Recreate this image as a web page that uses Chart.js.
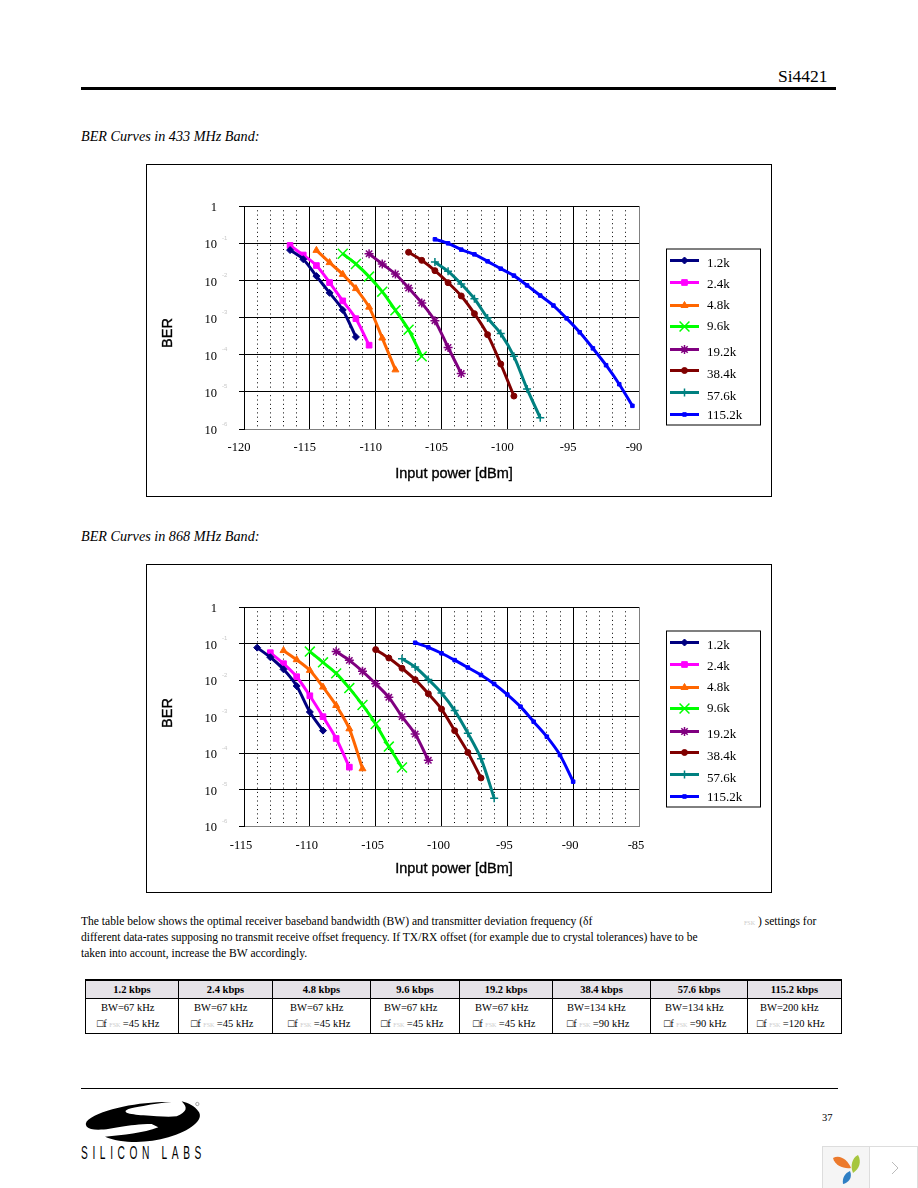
<!DOCTYPE html>
<html>
<head>
<meta charset="utf-8">
<script src="https://cdn.jsdelivr.net/npm/chart.js@4/dist/chart.umd.min.js"></script>
<style>
html, body { margin: 0; padding: 0; background: #fff; }
#page { position: relative; width: 918px; height: 1188px; overflow: hidden; font-family: "Liberation Serif", serif; color: #000; }
.abs { position: absolute; white-space: nowrap; }
.rule { position: absolute; background: #000; }
.box { position: absolute; left: 146px; width: 626px; border: 1px solid #000; box-sizing: border-box; }
.box canvas { position: absolute; left: -1px; top: -1px; }
.caption { font-style: italic; font-size: 14.2px; left: 81px; }
.para { left: 81px; font-size: 11.55px; }
.fsk { color: #ccc; font-size: 6px; display: inline-block; width: 16px; text-align: center; }
#specs { position: absolute; left: 85px; top: 979px; width: 756px; height: 55px; border-collapse: collapse; table-layout: fixed; font-size: 10.5px; }
#specs th { height: 17px; background: #e6e3e8; border: 1px solid #000; border-top: 2px solid #000; padding: 0; font-size: 10.5px; text-align: center; }
#specs td { border: 1px solid #000; padding: 1px 0 0 0; line-height: 15.5px; text-align: left; }
#specs td div { white-space: nowrap; }
#brand { left: 81px; top: 1141.5px; font-family: "Liberation Sans", sans-serif; font-size: 18.5px; letter-spacing: 8.4px; transform: scaleX(0.55); transform-origin: left; }
#widget { position: absolute; left: 822px; top: 1146px; width: 96px; height: 42px; border: 1px solid #ddd; border-bottom: 0; box-sizing: border-box; background: #fff; }
</style>
</head>
<body>
<div id="page">
    <div class="abs" style="left:778px;top:66px;font-size:17.5px">Si4421</div>
    <div class="rule" style="left:81px;top:87px;width:755px;height:3px"></div>

    <div class="abs caption" style="top:128px">BER Curves in 433 MHz Band:</div>
    <div class="box" style="top:164px;height:333px"><canvas id="ber433" width="626" height="333"></canvas></div>

    <div class="abs caption" style="top:528px">BER Curves in 868 MHz Band:</div>
    <div class="box" style="top:564px;height:329px"><canvas id="ber868" width="626" height="329"></canvas></div>

    <div class="abs para" style="top:915px">The table below shows the optimal receiver baseband bandwidth (BW) and transmitter deviation frequency (δf</div>
    <div class="abs para" style="top:915px;left:744px"><span class="fsk" style="width:auto">FSK</span> ) settings for</div>
    <div class="abs para" style="top:931px">different data-rates supposing no transmit receive offset frequency. If TX/RX offset (for example due to crystal tolerances) have to be</div>
    <div class="abs para" style="top:947px">taken into account, increase the BW accordingly.</div>

    <table id="specs"></table>

    <div class="rule" style="left:81px;top:1088px;width:757px;height:1px"></div>
    <svg class="abs" style="left:80px;top:1098px" width="125" height="64" viewBox="0 0 375 192">
        <path d="M275 12 C190 10 70 30 25 65 C8 80 20 95 55 95 C100 95 140 78 215 78 L235 88 C190 105 130 112 75 116 C120 135 200 138 265 118 C330 100 375 65 355 40 C345 25 325 15 305 10 C325 30 320 42 290 55 C265 58 230 55 190 52 C170 50 150 48 140 44 C128 36 150 30 190 24 C220 18 250 14 275 12 Z" fill="#000"/>
        <circle cx="352" cy="18" r="5" fill="none" stroke="#555" stroke-width="1.5"/>
    </svg>
    <div class="abs" id="brand">SILICON LABS</div>
    <div class="abs" style="left:822px;top:1112px;font-size:10.5px">37</div>

    <div id="widget">
        <div style="position:absolute;left:0;top:0;width:46px;height:42px;background:#f5f5f5;border-right:1px solid #ddd"></div>
        <svg style="position:absolute;left:9px;top:7px" width="30" height="31" viewBox="0 0 30 31">
            <path d="M1 4 C8 0 16 6 19 14 C12 15 3 12 1 4 Z" fill="#ec7a2c"/>
            <path d="M26 1 C30 8 27 15 21 19 C18 12 20 4 26 1 Z" fill="#a6c63e"/>
            <path d="M18 17 C21 24 16 29 11 30 C10 24 13 19 18 17 Z" fill="#2f7fc4"/>
        </svg>
        <svg style="position:absolute;left:68px;top:14px" width="8" height="14" viewBox="0 0 8 14">
            <path d="M1 1 L7 7 L1 13" fill="none" stroke="#bbb" stroke-width="1"/>
        </svg>
    </div>
</div>

<script>
// data, values
const rateLabels = ["1.2k", "2.4k", "4.8k", "9.6k", "19.2k", "38.4k", "57.6k", "115.2k"];
const yTickValues = [1, 1e-1, 1e-2, 1e-3, 1e-4, 1e-5, 1e-6];
const yTickExponents = ["", "-1", "-2", "-3", "-4", "-5", "-6"];

// 433 MHz band, first x of each curve plus BER per 1 dB step
const start433 = [-116.5, -116.5, -114.5, -112.5, -110.5, -107.5, -105.5, -105.5];
const ber433_12 = [6.5e-2, 3.7e-2, 1.3e-2, 4.6e-3, 1.6e-3, 3.0e-4];
const ber433_24 = [8.7e-2, 4.8e-2, 2.5e-2, 8.7e-3, 2.8e-3, 9.3e-4, 1.8e-4];
const ber433_48 = [6.4e-2, 3.0e-2, 1.45e-2, 6.0e-3, 1.9e-3, 2.8e-4, 3.9e-5];
const ber433_96 = [5.2e-2, 2.75e-2, 1.26e-2, 4.95e-3, 1.56e-3, 4.7e-4, 9.0e-5];
const ber433_192 = [5.2e-2, 2.75e-2, 1.48e-2, 6.2e-3, 2.45e-3, 8.2e-4, 1.57e-4, 3.1e-5];
const ber433_384 = [5.7e-2, 3.45e-2, 1.82e-2, 8.65e-3, 3.8e-3, 1.27e-3, 3.45e-4, 5.6e-5, 7.7e-6];
const ber433_576 = [3.1e-2, 1.75e-2, 8.0e-3, 3.2e-3, 9.7e-4, 3.7e-4, 9.0e-5, 1.2e-5, 2.0e-6];
const ber433_1152 = [1.27e-1, 9.9e-2, 6.7e-2, 5.0e-2, 3.25e-2, 2.06e-2, 1.34e-2, 7.3e-3, 3.9e-3, 2.1e-3, 9.5e-4, 4.0e-4, 1.48e-4, 5.2e-5, 1.6e-5, 4.2e-6];

// 868 MHz band
const start868 = [-114, -113, -112, -110, -108, -105, -103, -102];
const ber868_12 = [7.7e-2, 4.2e-2, 1.96e-2, 6.85e-3, 1.33e-3, 4.1e-4];
const ber868_24 = [5.6e-2, 2.8e-2, 1.23e-2, 3.7e-3, 9.9e-4, 2.5e-4, 4.1e-5];
const ber868_48 = [6.4e-2, 3.6e-2, 1.84e-2, 6.4e-3, 2.0e-3, 4.6e-4, 3.7e-5];
const ber868_96 = [6.0e-2, 3.05e-2, 1.52e-2, 6.0e-3, 2.07e-3, 6.2e-4, 1.5e-4, 4.0e-5];
const ber868_192 = [6.0e-2, 3.45e-2, 1.73e-2, 7.9e-3, 3.35e-3, 9.9e-4, 3.3e-4, 6.3e-5];
const ber868_384 = [6.8e-2, 4.0e-2, 2.1e-2, 1.02e-2, 4.2e-3, 1.6e-3, 4.1e-4, 1.04e-4, 2.07e-5];
const ber868_576 = [3.84e-2, 2.27e-2, 1.04e-2, 4.4e-3, 1.45e-3, 3.5e-4, 7.0e-5, 5.8e-6];
const ber868_1152 = [1.05e-1, 7.85e-2, 5.4e-2, 3.5e-2, 2.2e-2, 1.37e-2, 7.8e-3, 4.0e-3, 1.86e-3, 7.2e-4, 2.8e-4, 8.8e-5, 1.64e-5];

// table under the charts
const specRates = ["1.2 kbps", "2.4 kbps", "4.8 kbps", "9.6 kbps", "19.2 kbps", "38.4 kbps", "57.6 kbps", "115.2 kbps"];
const specBw = ["67", "67", "67", "67", "67", "134", "134", "200"];
const specDev = ["45", "45", "45", "45", "45", "90", "90", "120"];
const specWidths = [93, 94, 98, 89, 93, 98, 97, 94];
const specBwIndent = [15, 15, 17, 13, 15, 14, 14, 12];
const specDevIndent = [11, 12, 15, 10, 13, 14, 13, 9];

const lineColors = ["#000080", "#ff00ff", "#ff6600", "#00ff00", "#800080", "#800000", "#008080", "#0000ff"];
const markers = ["rectRot", "rect", "triangle", "crossRot", "star", "circle", "cross", "rect"];
const markerSizes = [3.5, 4, 4, 7, 4.5, 3, 4, 2.5];
const markerWeights = [1, 1, 1, 1.5, 1.5, 1, 1.5, 1];

// legend rows sit unevenly in the original
const legendLineY = [12, 34, 57, 78, 101, 122, 144, 166];
const legendTextY = [15, 36, 57, 78, 104, 126, 148, 167];

function buildDatasets(starts, curves) {
    return curves.map((curve, i) => ({
        label: rateLabels[i],
        data: curve.map((ber, k) => ({ x: starts[i] + k, y: ber })),
        borderColor: lineColors[i],
        backgroundColor: lineColors[i],
        borderWidth: 3,
        tension: 0.3,
        pointStyle: markers[i],
        pointRadius: markerSizes[i],
        pointBorderColor: lineColors[i],
        pointBackgroundColor: lineColors[i],
        pointBorderWidth: markerWeights[i],
        xAxisID: "x",
        yAxisID: "y"
    }));
}

// axis titles, faint exponents beside the "10" labels and the boxed legend
const berDecor = {
    id: "berDecor",
    afterDraw(chart, args, opts) {
        const ctx = chart.ctx;
        const yScale = chart.scales.y;
        ctx.save();
        ctx.textBaseline = "middle";
        ctx.textAlign = "left";
        ctx.fillStyle = "#c8c8c8";
        ctx.font = "6px 'Liberation Sans'";
        yTickValues.forEach((v, i) => {
            if (yTickExponents[i]) ctx.fillText(yTickExponents[i], 76, yScale.getPixelForValue(v) - 5);
        });

        ctx.fillStyle = "#000";
        ctx.strokeStyle = "#000";
        ctx.lineWidth = 0.35;
        ctx.textAlign = "center";
        ctx.font = "14.5px 'Liberation Sans'";
        ctx.fillText("Input power [dBm]", 308, opts.xTitleY);
        ctx.strokeText("Input power [dBm]", 308, opts.xTitleY);
        ctx.save();
        ctx.translate(22, opts.yTitleY);
        ctx.rotate(-Math.PI / 2);
        ctx.fillText("BER", 0, 0);
        ctx.strokeText("BER", 0, 0);
        ctx.restore();
        ctx.textAlign = "left";

        const left = 520, top = opts.legendTop, w = 94, h = 176;
        ctx.strokeStyle = "#000";
        ctx.lineWidth = 1;
        ctx.strokeRect(left + 0.5, top + 0.5, w, h);
        chart.data.datasets.forEach((ds, i) => {
            const y = top + legendLineY[i];
            ctx.strokeStyle = ds.borderColor;
            ctx.lineWidth = 3;
            ctx.beginPath();
            ctx.moveTo(left + 4, y);
            ctx.lineTo(left + 33, y);
            ctx.stroke();
            ctx.fillStyle = ds.borderColor;
            ctx.lineWidth = ds.pointBorderWidth;
            Chart.helpers.drawPoint(ctx, {
                pointStyle: ds.pointStyle,
                radius: ds.pointRadius,
                rotation: 0,
                borderWidth: ds.pointBorderWidth
            }, left + 18.5, y);
            ctx.fillStyle = "#000";
            ctx.font = "13px 'Liberation Serif'";
            ctx.fillText(ds.label, left + 41, top + legendTextY[i]);
        });
        ctx.restore();
    }
};

function makeChart(id, xMin, xMax, curves, starts, layoutOpts) {
    const cv = document.getElementById(id);
    return new Chart(cv, {
        type: "line",
        data: { datasets: buildDatasets(starts, curves) },
        plugins: [berDecor],
        options: {
            responsive: false,
            animation: false,
            layout: { padding: { left: 0, right: cv.width - 493, top: layoutOpts.plotTop, bottom: 0 } },
            plugins: {
                legend: { display: false },
                tooltip: { enabled: false },
                berDecor: { legendTop: layoutOpts.legendTop, xTitleY: layoutOpts.xTitleY, yTitleY: layoutOpts.yTitleY }
            },
            scales: {
                // dotted 1 dB lines, unlabelled
                xMinor: {
                    type: "linear",
                    position: "bottom",
                    min: xMin,
                    max: xMax,
                    afterFit: s => { s.height = 0; },
                    ticks: { display: false, stepSize: 1 },
                    grid: { color: "#000", lineWidth: 1, drawTicks: false },
                    border: { display: false, dash: [1, 3.3] }
                },
                x: {
                    type: "linear",
                    position: "bottom",
                    min: xMin,
                    max: xMax,
                    afterFit: s => { s.height = layoutOpts.plotBottom; },
                    ticks: {
                        stepSize: 5,
                        maxRotation: 0,
                        labelOffset: layoutOpts.labelShift,
                        padding: layoutOpts.xTickPad,
                        color: "#000",
                        font: { family: "'Liberation Serif'", size: 12.5 },
                        callback: v => String(v)
                    },
                    grid: {
                        color: c => c.tick && c.tick.value === xMax ? "#808080" : "#000",
                        lineWidth: 1,
                        drawTicks: false
                    },
                    border: { color: "#808080", width: 1 }
                },
                y: {
                    type: "logarithmic",
                    min: 1e-6,
                    max: 1,
                    afterBuildTicks: s => { s.ticks = yTickValues.map(v => ({ value: v, major: true })); },
                    afterFit: s => { s.width = 98; },
                    ticks: {
                        autoSkip: false,
                        padding: 22,
                        labelOffset: 2,
                        color: "#000",
                        font: { family: "'Liberation Serif'", size: 12.5 },
                        callback: v => v === 1 ? "1" : "10"
                    },
                    grid: {
                        color: c => c.tick && c.tick.value === 1e-6 ? "#808080" : "#000",
                        lineWidth: 1,
                        tickLength: 5,
                        tickColor: "#000"
                    },
                    border: { color: "#000", width: 1 }
                }
            }
        }
    });
}

makeChart("ber433", -120, -90,
    [ber433_12, ber433_24, ber433_48, ber433_96, ber433_192, ber433_384, ber433_576, ber433_1152],
    start433,
    { plotTop: 42, plotBottom: 68, legendTop: 84.5, labelShift: -5, xTickPad: 11, xTitleY: 310, yTitleY: 169 });
makeChart("ber868", -115, -85,
    [ber868_12, ber868_24, ber868_48, ber868_96, ber868_192, ber868_384, ber868_576, ber868_1152],
    start868,
    { plotTop: 43, plotBottom: 67, legendTop: 66.5, labelShift: -3, xTickPad: 12, xTitleY: 305, yTitleY: 149 });

// table
const specs = document.getElementById("specs");
let colsHtml = "<colgroup>" + specWidths.map(w => '<col style="width:' + w + 'px">').join("") + "</colgroup>";
let headHtml = "<tr>" + specRates.map(r => "<th>" + r + "</th>").join("") + "</tr>";
let bodyHtml = "<tr>" + specBw.map((bw, i) =>
    '<td><div style="margin-left:' + specBwIndent[i] + 'px">BW=' + bw + ' kHz</div>' +
    '<div style="margin-left:' + specDevIndent[i] + 'px">□f<span class="fsk">FSK</span>=' + specDev[i] + ' kHz</div></td>').join("") + "</tr>";
specs.innerHTML = colsHtml + headHtml + bodyHtml;
</script>
</body>
</html>
